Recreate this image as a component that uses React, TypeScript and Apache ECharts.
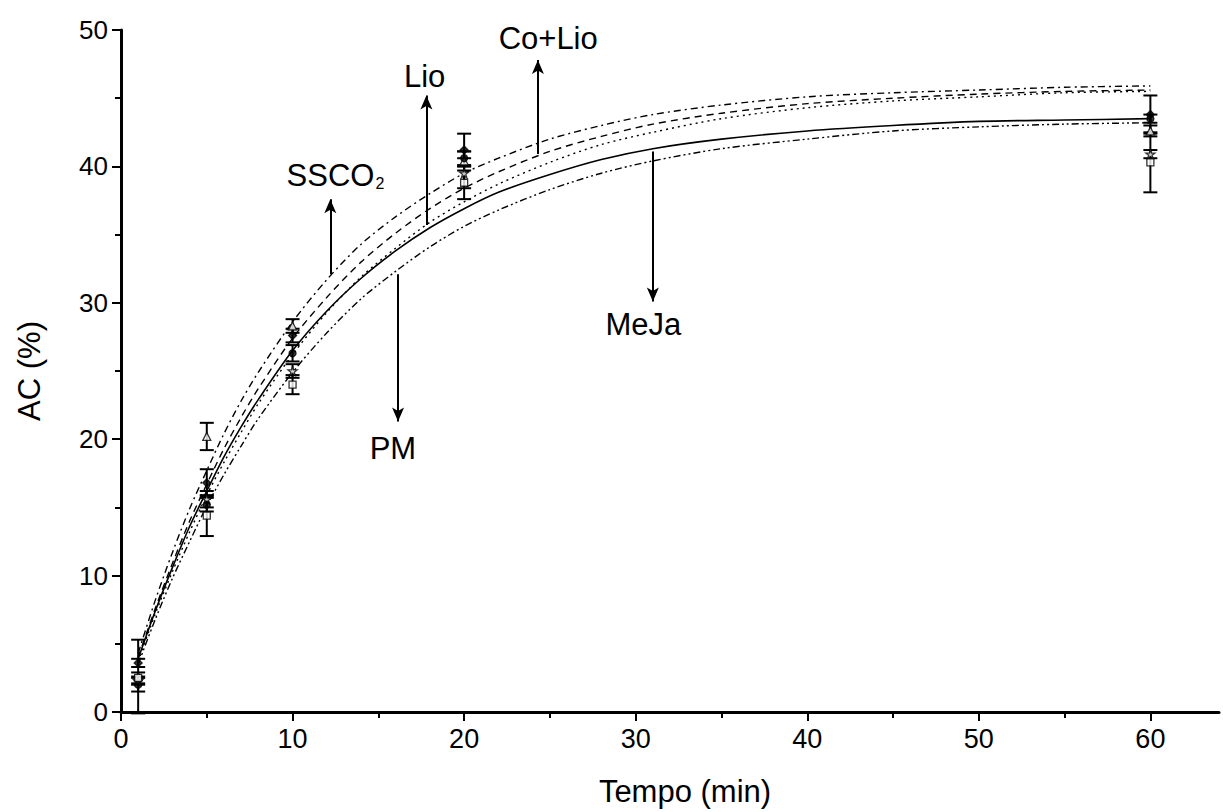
import React, { useEffect, useRef } from "react";
import * as echarts from "echarts";

// Fitted kinetic curves
const curveTimes = [1, 2, 3, 4, 5, 6, 7, 8, 10, 12, 14, 16, 18, 20, 22, 25, 28, 31, 35, 40, 45, 50, 55, 60];
const ssco2Curve = [4.3, 8.2, 11.7, 14.9, 17.7, 20.4, 22.8, 24.9, 28.6, 31.7, 34.3, 36.3, 38.0, 39.5, 40.6, 42.0, 43.0, 43.8, 44.5, 45.1, 45.4, 45.6, 45.8, 45.9];
const coLioCurve = [4.0, 7.6, 10.9, 14.0, 16.7, 19.3, 21.6, 23.7, 27.4, 30.4, 33.0, 35.1, 36.9, 38.4, 39.6, 41.1, 42.2, 43.1, 43.9, 44.6, 45.0, 45.3, 45.5, 45.6];
const lioCurve = [3.7, 7.2, 10.3, 13.2, 15.9, 18.3, 20.5, 22.6, 26.2, 29.3, 31.9, 34.0, 35.9, 37.4, 38.7, 40.3, 41.6, 42.5, 43.5, 44.3, 44.8, 45.1, 45.4, 45.5];
const mejaCurve = [3.9, 7.4, 10.6, 13.6, 16.2, 18.7, 20.9, 22.9, 26.5, 29.4, 31.8, 33.8, 35.5, 36.9, 38.1, 39.4, 40.5, 41.3, 42.0, 42.6, 43.0, 43.3, 43.4, 43.5];
const pmCurve = [3.5, 6.8, 9.8, 12.5, 15.1, 17.4, 19.5, 21.5, 24.9, 27.8, 30.3, 32.3, 34.1, 35.6, 36.8, 38.3, 39.5, 40.4, 41.3, 42.0, 42.6, 42.9, 43.1, 43.2];

// Measured points: time, mean, error
const sampleTimes = [1, 5, 10, 20, 60];
const ssco2Mean = [2.6, 20.2, 28.3, 40.4, 42.6];
const ssco2Err = [2.7, 1.0, 0.5, 0.7, 0.4];
const coLioMean = [3.6, 16.8, 27.6, 41.2, 43.8];
const coLioErr = [0.3, 1.0, 0.5, 1.2, 1.4];
const lioMean = [2.3, 15.6, 25.0, 39.5, 40.9];
const lioErr = [0.3, 0.6, 0.5, 1.1, 0.3];
const mejaMean = [2.0, 15.2, 26.3, 40.6, 43.5];
const mejaErr = [0.5, 0.5, 0.6, 0.5, 0.3];
const pmMean = [2.5, 14.4, 24.0, 38.8, 40.3];
const pmErr = [0.4, 1.5, 0.7, 1.2, 2.2];

// Annotation arrows: label, x, curve-end y, arrow-tip y, label position
const annLabels = ["SSCO2", "Lio", "Co+Lio", "MeJa", "PM"];
const annX = [12.2, 17.8, 24.3, 31.0, 16.15];
const annFromY = [32.1, 35.7, 40.9, 41.1, 32.1];
const annToY = [37.6, 45.2, 47.8, 30.1, 21.3];
const annTextX = [12.5, 17.7, 24.9, 30.45, 15.85];
const annTextY = [39.3, 46.6, 49.4, 28.4, 19.3];

const xTicks = [0, 10, 20, 30, 40, 50, 60];
const xMinorTicks = [5, 15, 25, 35, 45, 55];

const STAR = "path://M50,0 L61,35 98,35 68,57 79,91 50,70 21,91 32,57 2,35 39,35 Z";

export default function App() {
  const ref = useRef<HTMLDivElement>(null);
  useEffect(() => {
    if (!ref.current) return;
    const chart = echarts.init(ref.current, null, { renderer: "svg" });
    const font = "'Liberation Sans', Arial, sans-serif";

    const curveSeries = (name: string, ys: number[], type: any, width = 1.4) => ({
      name,
      type: "line",
      data: curveTimes.map((t, i) => [t, ys[i]]),
      smooth: 0.3,
      showSymbol: false,
      symbol: "none",
      lineStyle: { color: "#000", width, type },
      silent: true,
      z: 2,
    });

    const errSeries = (means: number[], errs: number[]) => ({
      type: "custom",
      silent: true,
      z: 3,
      data: sampleTimes.map((t, i) => [t, means[i], errs[i]]),
      renderItem: (params: any, api: any) => {
        const x = api.value(0);
        const y = api.value(1);
        const e = api.value(2);
        const top = api.coord([x, y + e]);
        const bot = api.coord([x, y - e]);
        const hw = 7;
        const st = { stroke: "#000", lineWidth: 2 };
        return {
          type: "group",
          children: [
            { type: "line", shape: { x1: top[0], y1: top[1], x2: bot[0], y2: bot[1] }, style: st },
            { type: "line", shape: { x1: top[0] - hw, y1: top[1], x2: top[0] + hw, y2: top[1] }, style: st },
            { type: "line", shape: { x1: bot[0] - hw, y1: bot[1], x2: bot[0] + hw, y2: bot[1] }, style: st },
          ],
        };
      },
    });

    const pointSeries = (means: number[], symbol: string, filled: boolean, size = 8) => ({
      type: "scatter",
      data: sampleTimes.map((t, i) => [t, means[i]]),
      symbol,
      symbolSize: size,
      itemStyle: { color: filled ? "#000" : "#fff", borderColor: "#000", borderWidth: 1.3 },
      silent: true,
      z: 4,
    });

    const annotSeries = {
      type: "line",
      data: [],
      silent: true,
      markLine: {
        silent: true,
        symbol: ["none", "arrow"],
        symbolSize: [9, 14],
        label: { show: false },
        lineStyle: { color: "#000", width: 2, type: "solid" },
        data: annX.map((x, i) => [
          { coord: [x, annFromY[i]] },
          { coord: [x, annToY[i]] },
        ]),
      },
      markPoint: {
        silent: true,
        symbol: "circle",
        symbolSize: 1,
        itemStyle: { color: "rgba(0,0,0,0)" },
        label: {
          show: true,
          position: "inside",
          color: "#000",
          fontFamily: font,
          fontSize: 31,
          formatter: (p: any) =>
            p.name === "SSCO2" ? "{a|SSCO}{b|2}" : p.name,
          rich: {
            a: { fontSize: 31, fontFamily: font, color: "#000" },
            b: { fontSize: 16, fontFamily: font, color: "#000", padding: [16, 0, 0, 1] },
          },
        },
        data: annLabels.map((n, i) => ({ name: n, coord: [annTextX[i], annTextY[i]] })),
      },
    };

    chart.setOption({
      animation: false,
      backgroundColor: "#fff",
      grid: { left: 121, top: 30, width: 1098, height: 684, containLabel: false },
      xAxis: [
        {
          type: "value",
          min: 0,
          max: 64,
          interval: 10,
          position: "bottom",
          name: "Tempo (min)",
          nameLocation: "middle",
          nameGap: 64,
          nameTextStyle: { fontFamily: font, fontSize: 31, color: "#000", padding: [0, 0, 0, 30] },
          axisLine: { show: true, onZero: false, lineStyle: { color: "#000", width: 3 } },
          axisTick: { show: true, length: 9, customValues: xTicks, lineStyle: { color: "#000", width: 2 } },
          axisLabel: { customValues: xTicks, fontFamily: font, fontSize: 27, color: "#000", margin: 13 },
          splitLine: { show: false },
        },
        {
          type: "value",
          min: 0,
          max: 64,
          position: "bottom",
          axisLine: { show: false },
          axisTick: { show: true, length: 6, customValues: xMinorTicks, lineStyle: { color: "#000", width: 2 } },
          axisLabel: { show: false },
          splitLine: { show: false },
        },
      ],
      yAxis: {
        type: "value",
        min: 0,
        max: 50,
        interval: 10,
        name: "AC (%)",
        nameLocation: "middle",
        nameGap: 76,
        nameTextStyle: { fontFamily: font, fontSize: 31, color: "#000" },
        axisLine: { show: true, onZero: false, lineStyle: { color: "#000", width: 3 } },
        axisTick: { show: true, length: 9, lineStyle: { color: "#000", width: 2 } },
        minorTick: { show: true, splitNumber: 2, length: 6, lineStyle: { color: "#000", width: 2 } },
        axisLabel: { fontFamily: font, fontSize: 26, color: "#000", margin: 13 },
        splitLine: { show: false },
        minorSplitLine: { show: false },
      },
      series: [
        curveSeries("SSCO2", ssco2Curve, [7, 4, 2, 4]),
        curveSeries("Co+Lio", coLioCurve, [7, 5]),
        curveSeries("Lio", lioCurve, [2, 4]),
        curveSeries("MeJa", mejaCurve, "solid", 1.6),
        curveSeries("PM", pmCurve, [7, 3, 2, 3, 2, 3]),
        errSeries(ssco2Mean, ssco2Err),
        errSeries(coLioMean, coLioErr),
        errSeries(lioMean, lioErr),
        errSeries(mejaMean, mejaErr),
        errSeries(pmMean, pmErr),
        pointSeries(ssco2Mean, "triangle", false),
        pointSeries(coLioMean, "diamond", true),
        pointSeries(lioMean, STAR, false, 9),
        pointSeries(mejaMean, "circle", true, 7),
        pointSeries(pmMean, "rect", false, 7),
        annotSeries,
      ],
    });
    return () => chart.dispose();
  }, []);
  return (
    <div
      ref={ref}
      style={{ position: "fixed", left: 0, top: 0, width: 1223, height: 812 }}
    />
  );
}
